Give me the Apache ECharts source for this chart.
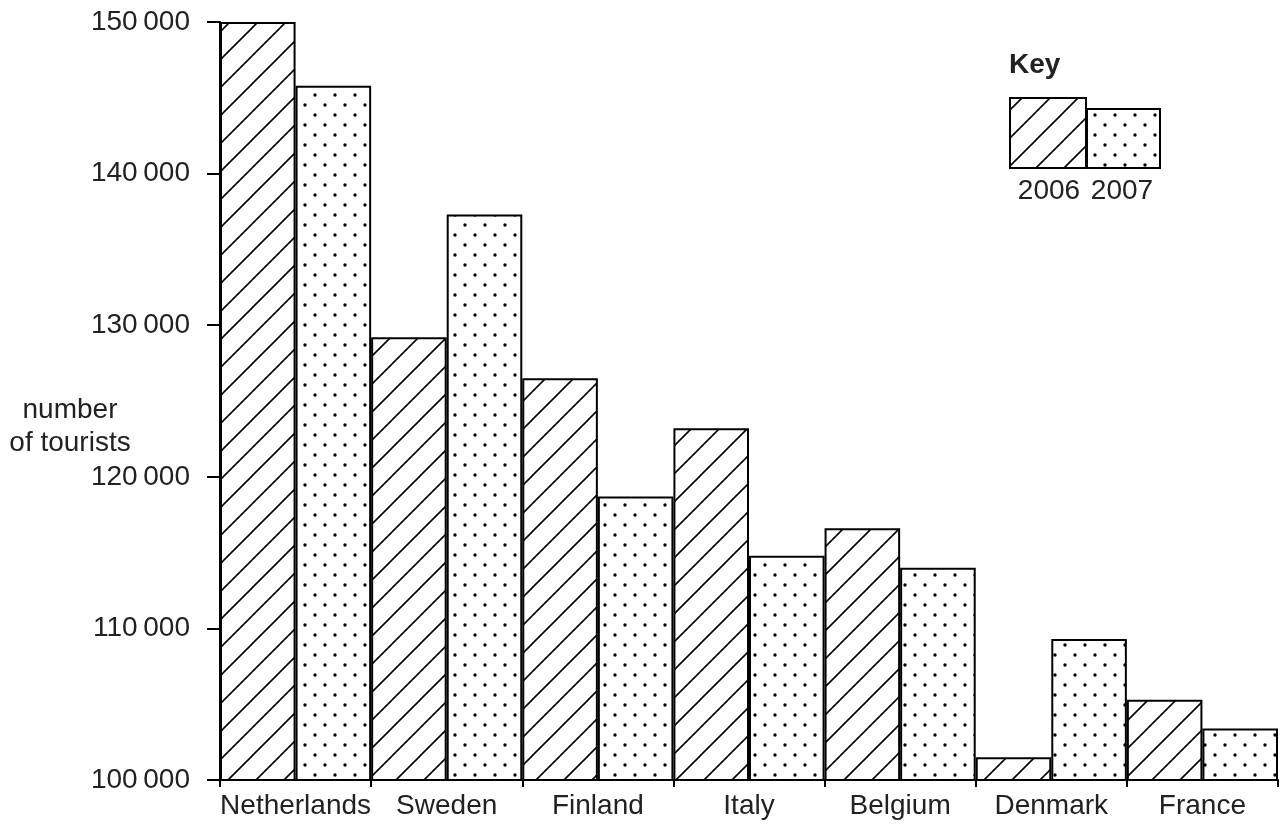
<!DOCTYPE html>
<html>
<head>
<meta charset="utf-8">
<script src="https://cdn.jsdelivr.net/npm/echarts@6/dist/echarts.min.js"></script>
<style>html,body{margin:0;padding:0;background:#fff;}#c{width:1280px;height:826px;}</style>
</head>
<body>
<div id="c"></div>
<script>
const categories = ['Netherlands', 'Sweden', 'Finland', 'Italy', 'Belgium', 'Denmark', 'France'];
const values2006 = [150000, 129200, 126500, 123200, 116600, 101500, 105300];
const values2007 = [145800, 137300, 118700, 114800, 114000, 109300, 103400];
const seriesNames = ['2006', '2007'];
const yTicks = [100000, 110000, 120000, 130000, 140000, 150000];

function hatchPattern() {
  const s = 28;
  const c = document.createElement('canvas');
  c.width = s; c.height = s;
  const g = c.getContext('2d');
  g.fillStyle = '#fff'; g.fillRect(0, 0, s, s);
  g.strokeStyle = '#000'; g.lineWidth = 1.6;
  g.beginPath();
  g.moveTo(-2, s + 2); g.lineTo(s + 2, -2);
  g.moveTo(-2 - s, s + 2); g.lineTo(2, -2);
  g.moveTo(s - 2, s + 2); g.lineTo(2 * s + 2, -2);
  g.stroke();
  return { image: c, repeat: 'repeat' };
}
function dotPattern() {
  const s = 20;
  const c = document.createElement('canvas');
  c.width = s; c.height = s;
  const g = c.getContext('2d');
  g.fillStyle = '#fff'; g.fillRect(0, 0, s, s);
  g.fillStyle = '#000';
  [[5, 5], [15, 15]].forEach(([x, y]) => { g.beginPath(); g.arc(x, y, 1.7, 0, Math.PI * 2); g.fill(); });
  return { image: c, repeat: 'repeat' };
}
const hatch = hatchPattern();
const dots = dotPattern();
const font = '"Liberation Sans", Arial, sans-serif';
const txt = '#222';
const fmt = v => String(v).replace(/(\d{3})$/, '\u2009$1');

const chart = echarts.init(document.getElementById('c'));
chart.setOption({
  animation: false,
  backgroundColor: '#fff',
  grid: { left: 220, right: 2, top: 22, bottom: 46, containLabel: false },
  xAxis: {
    type: 'category',
    data: categories,
    axisLine: { lineStyle: { color: '#000', width: 2 } },
    axisTick: { show: true, length: 7, lineStyle: { color: '#000', width: 2 } },
    axisLabel: { color: txt, fontSize: 28, fontFamily: font, margin: 12, interval: 0 },
    z: 10
  },
  yAxis: {
    type: 'value',
    min: yTicks[0], max: yTicks[yTicks.length - 1], interval: 10000,
    splitLine: { show: false },
    axisLine: { show: true, lineStyle: { color: '#000', width: 2 } },
    axisTick: { show: true, length: 13, lineStyle: { color: '#000', width: 2 } },
    axisLabel: { color: txt, fontSize: 28, fontFamily: font, margin: 30, formatter: fmt }
  },
  series: [
    { name: seriesNames[0], type: 'bar', data: values2006, barGap: '0%', barCategoryGap: '0%',
      itemStyle: { color: hatch, borderColor: '#000', borderWidth: 2 } },
    { name: seriesNames[1], type: 'bar', data: values2007, barGap: '0%', barCategoryGap: '0%',
      itemStyle: { color: dots, borderColor: '#000', borderWidth: 2 } }
  ],
  graphic: [
    { type: 'text', x: 70, y: 410, style: { text: 'number', fontSize: 28, fontFamily: font, fill: txt, align: 'center', verticalAlign: 'middle' } },
    { type: 'text', x: 70, y: 443, style: { text: 'of tourists', fontSize: 28, fontFamily: font, fill: txt, align: 'center', verticalAlign: 'middle' } },
    { type: 'text', x: 1009, y: 65, style: { text: 'Key', fontSize: 28, fontWeight: 'bold', fontFamily: font, fill: txt, align: 'left', verticalAlign: 'middle' } },
    { type: 'rect', shape: { x: 1010, y: 98, width: 76, height: 70 }, style: { fill: hatch, stroke: '#000', lineWidth: 2 } },
    { type: 'rect', shape: { x: 1087, y: 109, width: 73, height: 59 }, style: { fill: dots, stroke: '#000', lineWidth: 2 } },
    { type: 'text', x: 1049, y: 191, style: { text: seriesNames[0], fontSize: 28, fontFamily: font, fill: txt, align: 'center', verticalAlign: 'middle' } },
    { type: 'text', x: 1122, y: 191, style: { text: seriesNames[1], fontSize: 28, fontFamily: font, fill: txt, align: 'center', verticalAlign: 'middle' } }
  ]
});
</script>
</body>
</html>
